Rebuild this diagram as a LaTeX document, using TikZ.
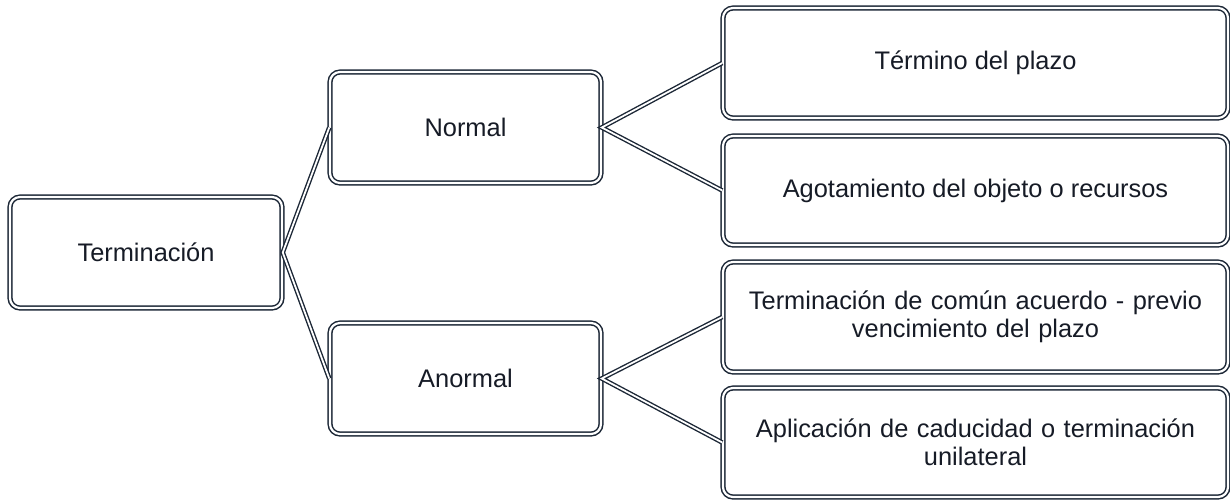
\documentclass[tikz,border=0pt]{standalone}
\usepackage{fontspec}
\setmainfont{Liberation Sans}
\definecolor{navy}{HTML}{1C2736}
\definecolor{txt}{HTML}{161B26}
\tikzset{
  box/.style={draw=navy, double=white, line width=0.75pt, double distance=1.1pt,
    rounded corners=5pt, align=center, inner sep=0pt, text=txt,
    font=\fontsize{12.7}{14.2}\selectfont},
  conn/.style={draw=navy, double=white, line width=0.7pt, double distance=0.9pt}
}
\begin{document}
\begin{tikzpicture}[x=0.5pt,y=-0.5pt]
\useasboundingbox (0,0) rectangle (1230,500);
\node[box, minimum width=136pt, minimum height=55.5pt] (term) at (146,252.5) {Terminación};
\node[box, minimum width=135.5pt, minimum height=55.5pt] (norm) at (465.5,127.5) {Normal};
\node[box, minimum width=135.5pt, minimum height=55.5pt] (anor) at (465.5,378.5) {Anormal};
\node[box, minimum width=252.5pt, minimum height=55pt] (r1) at (975.5,63) {Término del plazo};
\node[box, minimum width=252.5pt, minimum height=54.5pt] (r2) at (975.5,190.5) {Agotamiento del objeto o recursos};
\node[box, minimum width=252.5pt, minimum height=55pt, text width=240pt] (r3) at (975.5,317) {Terminación de común acuerdo - previo\\vencimiento del plazo};
\node[box, minimum width=252.5pt, minimum height=54.5pt, text width=240pt] (r4) at (975.5,442.5) {Aplicación de caducidad o terminación\\unilateral};
\draw[conn] (norm.west) -- (term.east) -- (anor.west);
\draw[conn] (r1.west) -- (norm.east) -- (r2.west);
\draw[conn] (r3.west) -- (anor.east) -- (r4.west);
\end{tikzpicture}
\end{document}
